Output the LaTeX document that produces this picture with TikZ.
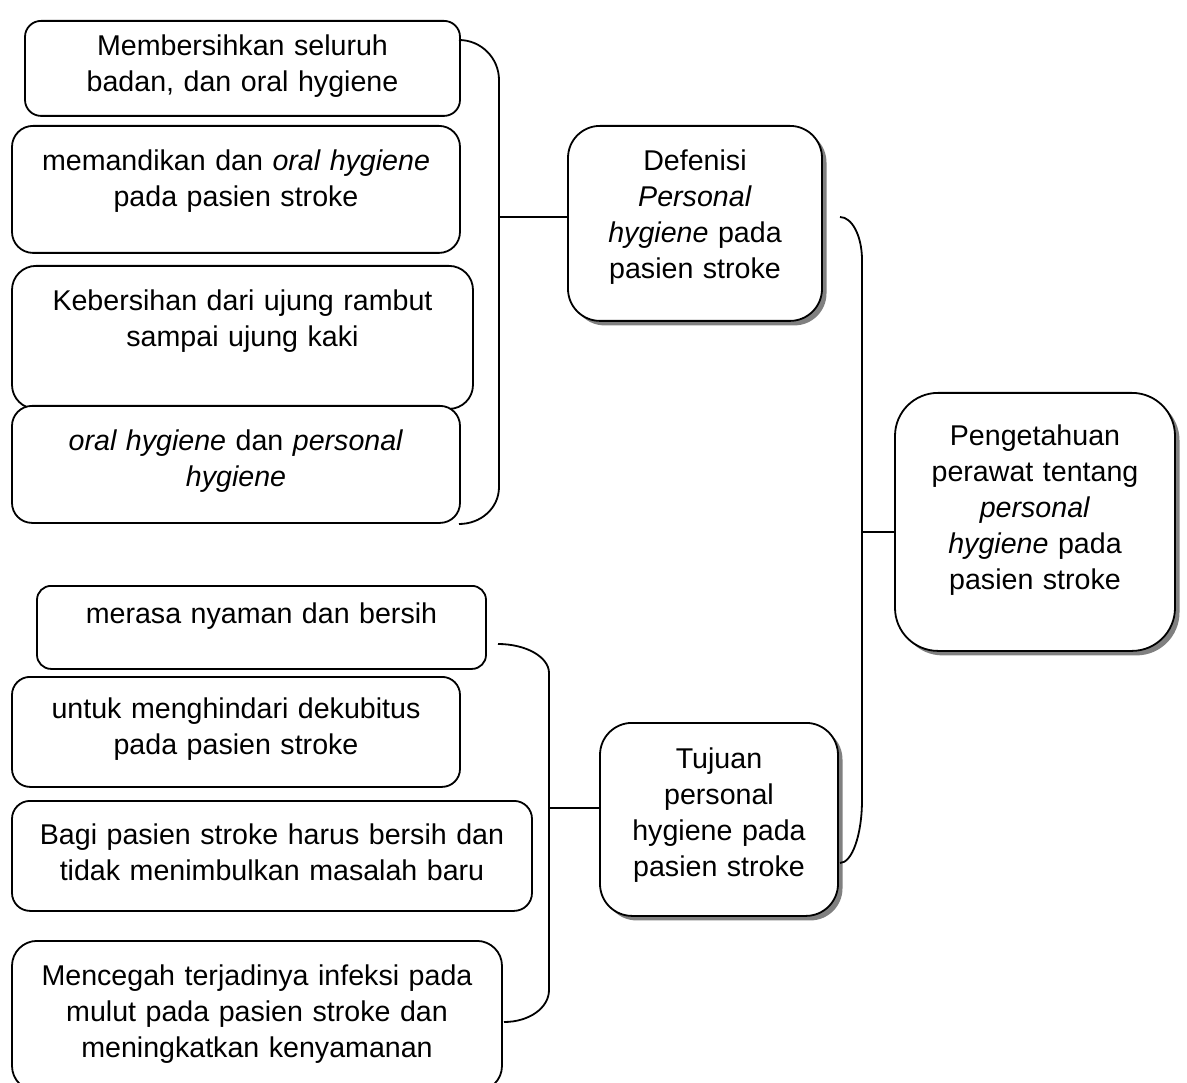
\documentclass[tikz,border=0pt]{standalone}
\usepackage{fontspec}
\setmainfont{Liberation Sans}
\usetikzlibrary{shadows}

\begin{document}
\begin{tikzpicture}[x=1pt,y=-1pt]
   \tikzstyle{item}=[draw, rectangle, fill=white, line width=1.8pt, anchor=north, align=center, inner xsep=4pt, inner ysep=0pt, text height=45pt, font=\fontsize{28.6}{36}\selectfont]
   \tikzstyle{topic}=[item, drop shadow={shadow xshift=4.5pt, shadow yshift=-4.5pt, fill=black!50, opacity=1}]
   \tikzstyle{brace}=[line width=1.8pt]

\useasboundingbox (0,0) rectangle (1187,1083);

% definisi
\node[item, text width=427pt, text height=35pt, text depth=60pt, rounded corners=16pt] (bersih) at (242.5,20) {Membersihkan seluruh\\ badan, dan oral hygiene};
\node[item, text width=440pt, text depth=82pt, rounded corners=21pt] (mandi) at (236,125) {memandikan dan \textit{oral hygiene}\\ pada pasien stroke};
\node[item, text width=453pt, text depth=98pt, rounded corners=24pt] (ujung) at (242.5,265) {Kebersihan dari ujung rambut\\ sampai ujung kaki};
\node[item, text width=440pt, text depth=72pt, rounded corners=20pt] (oral) at (236,405) {\textit{oral hygiene} dan \textit{personal}\\ \textit{hygiene}};
\node[topic, text width=246pt, text depth=150pt, rounded corners=32pt] (defn) at (695,125) {Defenisi\\ \textit{Personal}\\ \textit{hygiene} pada\\ pasien stroke};

% tujuan
\node[item, text width=441pt, text height=38pt, text depth=45pt, rounded corners=14pt] (nyaman) at (261.5,585) {merasa nyaman dan bersih};
\node[item, text width=440pt, text height=42pt, text depth=68pt, rounded corners=18pt] (dekub) at (236,676) {untuk menghindari dekubitus\\ pada pasien stroke};
\node[item, text width=512pt, text height=44pt, text depth=66pt, rounded corners=18pt] (baru) at (272,800) {Bagi pasien stroke harus bersih dan\\ tidak menimbulkan masalah baru};
\node[item, text width=482pt, text depth=105pt, rounded corners=25pt] (infeksi) at (257,940) {Mencegah terjadinya infeksi pada\\ mulut pada pasien stroke dan\\ meningkatkan kenyamanan};
\node[topic, text width=230pt, text height=46pt, text depth=147pt, rounded corners=32pt] (tujuan) at (719,722) {Tujuan\\ personal\\ hygiene pada\\ pasien stroke};

% pengetahuan
\node[topic, text width=272pt, text height=53pt, text depth=205pt, rounded corners=43pt] (tahu) at (1035,392) {Pengetahuan\\ perawat tentang\\ \textit{personal}\\ \textit{hygiene} pada\\ pasien stroke};

% kurung
\coordinate (b1a) at (459,40);
\coordinate (b1b) at (459,524);
\coordinate (b1m) at (499,217);
\draw[brace] (b1a) .. controls (481,40) and (499,58) .. (499,80) -- (499,487) .. controls (499,508) and (481,524) .. (b1b);
\draw[brace] (b1m) -- (b1m -| defn.west);

\coordinate (b2a) at (840,217);
\coordinate (b2b) at (840,863);
\coordinate (b2m) at (862,532);
\draw[brace] (b2a) .. controls (852,217) and (862,236) .. (862,260) -- (862,800) .. controls (862,835) and (852,863) .. (b2b);
\draw[brace] (b2m) -- (b2m -| tahu.west);

\coordinate (b3a) at (498,644);
\coordinate (b3b) at (504,1022);
\coordinate (b3m) at (549,808);
\draw[brace] (b3a) .. controls (526,644) and (549,657) .. (549,673) -- (549,990) .. controls (549,1008) and (529,1022) .. (b3b);
\draw[brace] (b3m) -- (b3m -| tujuan.west);

\end{tikzpicture}
\end{document}
